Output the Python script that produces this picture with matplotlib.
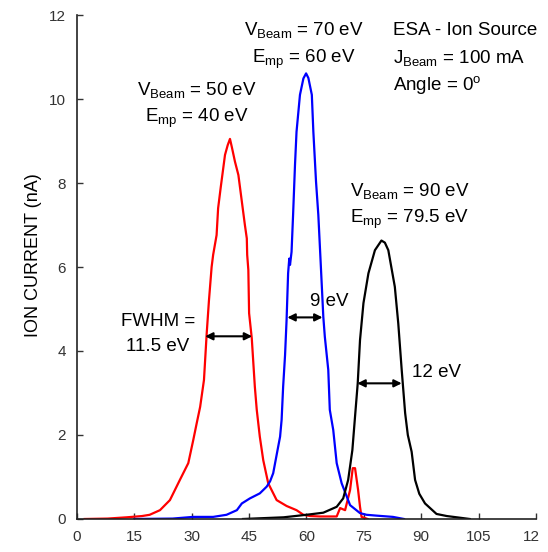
import matplotlib
matplotlib.use("Agg")
import matplotlib.pyplot as plt
from matplotlib.transforms import Bbox

plt.rcParams['font.family'] = ['Liberation Sans', 'DejaVu Sans']
plt.rcParams['mathtext.fontset'] = 'custom'
plt.rcParams['mathtext.rm'] = 'Liberation Sans'
plt.rcParams['mathtext.it'] = 'Liberation Sans'

# energy (eV) vs ion current (nA)
red_x = [2, 8, 13, 17, 19, 21.7, 24.3, 26.9, 29.1, 30.4, 31.3, 32.2, 33.2, 33.9, 34.5,
         35.2, 35.6, 36.5, 36.9, 37.6, 38.7, 39.4, 40.0, 40.5, 41.3, 42.2, 43.1, 43.9,
         44.4, 44.5, 44.8, 45.0, 45.7, 46.5, 47.0, 47.8, 48.7, 50.0, 52.2, 54.8, 57.4,
         59.2, 61, 63.5, 67.9, 68.8, 70.1, 71.4, 72.1, 72.7, 73.5, 74.0, 74.4, 76]
red_y = [0.0, 0.01, 0.04, 0.07, 0.1, 0.21, 0.45, 0.93, 1.33, 1.88, 2.28, 2.67, 3.31, 4.4, 5.2,
         6.0, 6.29, 6.76, 7.40, 7.91, 8.67, 8.9, 9.05, 8.85, 8.51, 8.19, 7.56, 7.0,
         6.68, 6.29, 5.93, 4.9, 4.3, 3.15, 2.6, 1.96, 1.4, 0.85, 0.45, 0.31, 0.21,
         0.1, 0.07, 0.06, 0.06, 0.26, 0.21, 0.69, 1.21, 1.21, 0.69, 0.29, 0.05, 0.0]

blue_x = [15, 25, 30.4, 35.6, 39.1, 41.8, 43.1, 45.2, 47.8, 49.6, 50.5, 51.3, 52.6, 53.1,
          53.5, 53.9, 54.4, 54.8, 55.2, 55.5, 55.7, 56.1, 56.5, 57.0, 57.4, 58.3, 59.2,
          59.9, 60.5, 61.4, 61.8, 62.5, 63.1, 63.7, 64.4, 64.8, 65.7, 66.1, 67.0, 67.9,
          69.2, 71.4, 74.0, 75.7, 78.3, 82.6, 85.5]
blue_y = [0, 0.01, 0.05, 0.05, 0.1, 0.21, 0.37, 0.49, 0.61, 0.77, 0.9, 1.09, 1.72, 1.96,
          2.36, 3.15, 3.9, 4.74, 5.85, 6.2, 6.05, 6.36, 7.24, 8.43, 9.22, 10.1, 10.49,
          10.61, 10.5, 10.1, 9.22, 8.03, 7.24, 6.13, 4.82, 4.34, 3.55, 2.6, 2.12, 1.33,
          0.85, 0.33, 0.14, 0.1, 0.08, 0.05, 0.0]

black_x = [43.4, 54, 60, 64.4, 67.9, 69.6, 70.9, 72.0, 72.7, 73.4, 74.0, 74.9, 76.2, 77.9,
           79.6, 80.5, 81.4, 83.1, 84.0, 84.9, 85.8, 86.5, 87.5, 88.4, 89.5, 91.0, 94.0,
           96.7, 99.3, 102.7]
black_y = [0, 0.04, 0.1, 0.15, 0.29, 0.49, 0.93, 1.64, 2.44, 3.23, 4.26, 5.14, 5.85, 6.40,
           6.63, 6.58, 6.40, 5.53, 4.66, 3.55, 2.52, 2.0, 1.6, 0.93, 0.6, 0.37, 0.12,
           0.07, 0.04, 0.0]

x_ticks = [0, 15, 30, 45, 60, 75, 90, 105, 120]
y_ticks = [0, 2, 4, 6, 8, 10, 12]

# FWHM arrows: (x start, x end, height)
fwhm = [(33.5, 45.8, 4.35), (55.0, 64.2, 4.8), (73.3, 84.9, 3.23)]

fig = plt.figure(figsize=(5.48, 5.52), dpi=100)
ax = fig.add_axes([0.1405, 0.0598, 0.978 - 0.1405, 0.9728 - 0.0598])

ax.plot(red_x, red_y, color='red', lw=1.6)
ax.plot(blue_x, blue_y, color='blue', lw=1.6)
ax.plot(black_x, black_y, color='black', lw=1.6)

for x1, x2, yy in fwhm:
    ax.annotate('', xy=(x2, yy), xytext=(x1, yy),
                arrowprops=dict(arrowstyle='<|-|>', color='black', lw=1.5,
                                mutation_scale=11, shrinkA=0, shrinkB=0))

fs = 13.5
ax.text(21.2, 4.59, 'FWHM =', fontsize=fs, ha='center', va='baseline')
ax.text(21.2, 4.01, '11.5 eV', fontsize=fs, ha='center', va='baseline')
ax.text(60.9, 5.08, '9 eV', fontsize=fs, ha='left', va='baseline')
ax.text(87.5, 3.37, '12 eV', fontsize=fs, ha='left', va='baseline')

ax.text(31.4, 10.10, r'V$_{\mathrm{Beam}}$ = 50 eV', fontsize=fs, ha='center', va='baseline')
ax.text(31.4, 9.46, r'E$_{\mathrm{mp}}$ = 40 eV', fontsize=fs, ha='center', va='baseline')
ax.text(59.3, 11.52, r'V$_{\mathrm{Beam}}$ = 70 eV', fontsize=fs, ha='center', va='baseline')
ax.text(59.3, 10.85, r'E$_{\mathrm{mp}}$ = 60 eV', fontsize=fs, ha='center', va='baseline')
ax.text(71.4, 7.68, r'V$_{\mathrm{Beam}}$ = 90 eV', fontsize=fs, ha='left', va='baseline')
ax.text(71.4, 7.04, r'E$_{\mathrm{mp}}$ = 79.5 eV', fontsize=fs, ha='left', va='baseline')

ax.text(82.6, 11.52, 'ESA - Ion Source', fontsize=fs, ha='left', va='baseline')
ax.text(82.6, 10.85, r'J$_{\mathrm{Beam}}$ = 100 mA', fontsize=fs, ha='left', va='baseline')
ax.text(82.6, 10.21, r'Angle = 0$^{\mathrm{o}}$', fontsize=fs, ha='left', va='baseline')

ax.set_xlim(0, 120)
ax.set_ylim(0, 12)
ax.set_xticks(x_ticks)
ax.set_yticks(y_ticks)
ax.set_xticklabels([str(t) for t in x_ticks])
ax.tick_params(direction='in', length=4, width=1, labelsize=11, colors='#333333')
ax.tick_params(axis='x', pad=8)
ax.tick_params(axis='y', pad=8)
ax.spines['top'].set_visible(False)
ax.spines['right'].set_visible(False)
for s in ['left', 'bottom']:
    ax.spines[s].set_color('#222222')
    ax.spines[s].set_linewidth(1.2)

ax.set_ylabel('ION CURRENT (nA)', fontsize=13)
ax.yaxis.set_label_coords(-0.076, 0.524)

# the last tick label is cut off at the right edge in the original
last = ax.get_xticklabels()[-1]
last.set_clip_on(True)
last.set_clip_box(Bbox.from_extents(0, 0, 539, 552))

fig.savefig('out.png', dpi=100)
